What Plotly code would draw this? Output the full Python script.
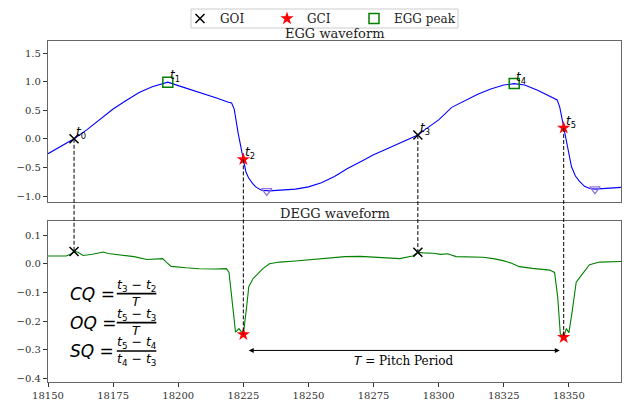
import plotly.graph_objects as go

# ---------------- data ----------------
egg_x = [18150, 18155, 18160, 18165, 18170, 18175, 18180, 18185, 18190, 18196,
         18200, 18205, 18210, 18215, 18219, 18220.5, 18221.5, 18223, 18225, 18226,
         18227, 18228.5, 18230, 18232, 18235, 18240, 18245, 18250, 18255, 18260,
         18265, 18270, 18275, 18280, 18285, 18290, 18292, 18295, 18300, 18305,
         18310, 18315, 18320, 18325, 18329, 18333, 18338, 18343, 18345.5, 18346.5,
         18348, 18349.5, 18351, 18352.5, 18354, 18356, 18358, 18360, 18365, 18370]
egg_y = [-0.26, -0.13, 0.00, 0.16, 0.34, 0.52, 0.67, 0.81, 0.91, 0.99,
         0.93, 0.86, 0.79, 0.71, 0.645, 0.625, 0.52, 0.10, -0.36, -0.58,
         -0.68, -0.78, -0.85, -0.90, -0.91, -0.90, -0.88, -0.84, -0.77, -0.66,
         -0.52, -0.40, -0.28, -0.18, -0.08, 0.02, 0.065, 0.17, 0.33, 0.55,
         0.67, 0.78, 0.87, 0.94, 0.965, 0.94, 0.85, 0.74, 0.68, 0.55,
         0.19, -0.15, -0.49, -0.65, -0.74, -0.83, -0.87, -0.88, -0.87, -0.85]

degg_x = [18150, 18157, 18159, 18160, 18161.5, 18163.5, 18167, 18171.3, 18173, 18178,
          18183, 18188, 18192, 18194, 18195.5, 18197.3, 18203, 18208, 18214, 18218.5,
          18219.5, 18221, 18222, 18223.3, 18224.6, 18225, 18226.1, 18227.1, 18228.7, 18230,
          18232.5, 18235, 18239, 18245, 18250, 18257, 18264, 18270, 18275, 18280,
          18285, 18290, 18292, 18294, 18298, 18300.7, 18303.5, 18306.7, 18312, 18317,
          18321, 18324.7, 18328, 18331, 18336, 18342.6, 18344.5, 18345.7, 18346.7, 18348,
          18349, 18350, 18351.3, 18352.8, 18354.7, 18356, 18357.9, 18361.8, 18370]
degg_y = [0.027, 0.027, 0.035, 0.043, 0.040, 0.029, 0.033, 0.041, 0.036, 0.031,
          0.025, 0.015, 0.016, 0.018, 0.005, -0.009, -0.014, -0.017, -0.018, -0.017,
          -0.030, -0.150, -0.238, -0.226, -0.240, -0.246, -0.163, -0.080, -0.052, -0.041,
          -0.017, 0.000, 0.006, 0.010, 0.014, 0.018, 0.025, 0.026, 0.023, 0.021,
          0.018, 0.027, 0.040, 0.038, 0.037, 0.033, 0.035, 0.025, 0.024, 0.023,
          0.018, 0.011, 0.002, -0.010, -0.016, -0.022, -0.030, -0.116, -0.244, -0.256,
          -0.226, -0.240, -0.163, -0.064, -0.041, -0.025, -0.003, 0.006, 0.008]

# event instants
goi_t = [18160, 18292]
goi_egg = [0.00, 0.065]
goi_degg = [0.043, 0.040]
gci_t = [18225, 18348]
gci_egg = [-0.36, 0.19]
gci_degg = [-0.246, -0.256]
peak_t = [18196, 18329]
peak_egg = [0.99, 0.965]
min_t = [18234, 18360]
min_egg = [-0.91, -0.88]

label_idx = ["0", "1", "2", "3", "4", "5"]
label_t = [goi_t[0], peak_t[0], gci_t[0], goi_t[1], peak_t[1], gci_t[1]]
label_v = [goi_egg[0], peak_egg[0], gci_egg[0], goi_egg[1], peak_egg[1], gci_egg[1]]

x_ticks = [18150, 18175, 18200, 18225, 18250, 18275, 18300, 18325, 18350]
top_ticks = [-1.0, -0.5, 0.0, 0.5, 1.0, 1.5]
bot_ticks = [0.1, 0.0, -0.1, -0.2, -0.3, -0.4]

formula_lhs = ["CQ", "OQ", "SQ"]
formula_num = ["<i>t</i><sub>3</sub> − <i>t</i><sub>2</sub>",
               "<i>t</i><sub>5</sub> − <i>t</i><sub>3</sub>",
               "<i>t</i><sub>5</sub> − <i>t</i><sub>4</sub>"]
formula_den = ["<i>T</i>", "<i>T</i>", "<i>t</i><sub>4</sub> − <i>t</i><sub>3</sub>"]
formula_y = [-0.104, -0.205, -0.304]

# ---------------- layout constants ----------------
W, H = 629, 400
ML, MR, MT, MB = 48, 8, 41, 18
X_RANGE = [18150, 18370]
TOP_RANGE = [-1.11, 1.71]
BOT_RANGE = [-0.412, 0.149]
TOP_DOM = [0.527, 1.0]
BOT_DOM = [0.0, 0.472]

SERIF = "DejaVu Serif"
SANS = "DejaVu Sans"
FRAME = "#666666"

fig = go.Figure()

fig.add_trace(go.Scatter(x=egg_x, y=egg_y, mode="lines", line=dict(color="#0000ff", width=1.1),
                         showlegend=False, xaxis="x", yaxis="y"))
fig.add_trace(go.Scatter(x=degg_x, y=degg_y, mode="lines", line=dict(color="#008000", width=1.1),
                         showlegend=False, xaxis="x2", yaxis="y2"))

# markers on EGG
fig.add_trace(go.Scatter(x=goi_t, y=goi_egg, mode="markers", name="GOI",
                         marker=dict(symbol="x-thin", size=9, line=dict(color="black", width=1.5), color="black"),
                         xaxis="x", yaxis="y"))
fig.add_trace(go.Scatter(x=gci_t, y=gci_egg, mode="markers", name="GCI",
                         marker=dict(symbol="star", size=10, color="red", line=dict(width=0)),
                         xaxis="x", yaxis="y"))
fig.add_trace(go.Scatter(x=peak_t, y=peak_egg, mode="markers", name="EGG peak",
                         marker=dict(symbol="square-open", size=10, color="green", line=dict(width=1.5)),
                         xaxis="x", yaxis="y"))
# invisible legend spacer so the last label is not clipped
fig.add_trace(go.Scatter(x=[None], y=[None], mode="markers", name=" ",
                         marker=dict(color="rgba(0,0,0,0)", size=1),
                         xaxis="x", yaxis="y", hoverinfo="skip"))
fig.add_trace(go.Scatter(x=min_t, y=min_egg, mode="markers", showlegend=False,
                         marker=dict(symbol="triangle-down-open", size=9, color="#9370DB", line=dict(width=1.3)),
                         xaxis="x", yaxis="y"))
# markers on DEGG
fig.add_trace(go.Scatter(x=goi_t, y=goi_degg, mode="markers", showlegend=False,
                         marker=dict(symbol="x-thin", size=9, line=dict(color="black", width=1.5), color="black"),
                         xaxis="x2", yaxis="y2"))
fig.add_trace(go.Scatter(x=gci_t, y=gci_degg, mode="markers", showlegend=False,
                         marker=dict(symbol="star", size=10, color="red", line=dict(width=0)),
                         xaxis="x2", yaxis="y2"))


def top_to_paper(v):
    return TOP_DOM[0] + (v - TOP_RANGE[0]) / (TOP_RANGE[1] - TOP_RANGE[0]) * (TOP_DOM[1] - TOP_DOM[0])


def bot_to_paper(v):
    return BOT_DOM[0] + (v - BOT_RANGE[0]) / (BOT_RANGE[1] - BOT_RANGE[0]) * (BOT_DOM[1] - BOT_DOM[0])


def px_x(p):
    return (p - ML) / (W - ML - MR)


def px_y(p):
    return (H - MB - p) / (H - MT - MB)


shapes = []
# dashed connectors between the two panels
for t, ve, vd in list(zip(goi_t, goi_egg, goi_degg)) + list(zip(gci_t, gci_egg, gci_degg)):
    shapes.append(dict(type="line", xref="x", yref="paper", x0=t, x1=t,
                       y0=top_to_paper(ve), y1=bot_to_paper(vd),
                       line=dict(color="black", width=1, dash="4px,2px")))

# legend frame
shapes.append(dict(type="rect", xref="paper", yref="paper",
                   x0=px_x(191), x1=px_x(458), y0=px_y(28), y1=px_y(9),
                   line=dict(color="#cccccc", width=1), fillcolor="white", layer="above"))

annotations = []
# t labels
for idx, t, v in zip(label_idx, label_t, label_v):
    annotations.append(dict(x=t, y=v, xref="x", yref="y", text="<i>t</i><sub>" + idx + "</sub>",
                            showarrow=False, xanchor="left", yanchor="bottom", xshift=0, yshift=-4,
                            font=dict(family=SANS, size=12, color="black")))

# panel titles
annotations.append(dict(x=0.5, y=1, xref="x domain", yref="y domain", text="EGG waveform",
                        showarrow=False, xanchor="center", yanchor="bottom", yshift=-2,
                        font=dict(family=SERIF, size=13, color="#222")))
annotations.append(dict(x=0.5, y=1, xref="x2 domain", yref="y2 domain", text="DEGG waveform",
                        showarrow=False, xanchor="center", yanchor="bottom", yshift=-2,
                        font=dict(family=SERIF, size=13, color="#222")))

# pitch period arrow
annotations.append(dict(x=gci_t[1] - 1.5, y=-0.302, ax=gci_t[0] + 1.5, ay=-0.302,
                        xref="x2", yref="y2", axref="x2", ayref="y2", text="",
                        showarrow=True, arrowhead=2, arrowside="end+start", arrowsize=1,
                        arrowwidth=1, arrowcolor="black"))
annotations.append(dict(x=(gci_t[0] + gci_t[1]) / 2, y=-0.34, xref="x2", yref="y2",
                        text="<span style='font-family:DejaVu Sans'><i>T</i></span> = Pitch Period",
                        showarrow=False, xanchor="center", yanchor="middle",
                        font=dict(family=SERIF, size=12, color="black")))

# formulas
bar_x0, bar_x1 = 18176.4, 18191.6
for lhs, num, den, fy in zip(formula_lhs, formula_num, formula_den, formula_y):
    annotations.append(dict(x=18157.5, y=fy, xref="x2", yref="y2", text="<i>" + lhs + "</i> =",
                            showarrow=False, xanchor="left", yanchor="middle",
                            font=dict(family=SANS, size=17, color="black")))
    annotations.append(dict(x=(bar_x0 + bar_x1) / 2, y=fy, xref="x2", yref="y2", text=num,
                            showarrow=False, xanchor="center", yanchor="bottom", yshift=-2,
                            font=dict(family=SANS, size=12.5, color="black")))
    annotations.append(dict(x=(bar_x0 + bar_x1) / 2, y=fy, xref="x2", yref="y2", text=den,
                            showarrow=False, xanchor="center", yanchor="top", yshift=2,
                            font=dict(family=SANS, size=12.5, color="black")))
    shapes.append(dict(type="line", xref="x2", yref="y2", x0=bar_x0, x1=bar_x1, y0=fy, y1=fy,
                       line=dict(color="black", width=1.6)))

axis_common = dict(showgrid=False, zeroline=False, showline=True, linecolor=FRAME, linewidth=1.3,
                   mirror=True, ticks="outside", ticklen=4, tickwidth=1, tickcolor="#333",
                   tickfont=dict(family=SERIF, size=10, color="#333"), automargin=False)

xaxis_top = dict(axis_common)
xaxis_top.update(ticks="", showticklabels=False)

fig.update_layout(
    width=W, height=H,
    margin=dict(l=ML, r=MR, t=MT, b=MB, autoexpand=False),
    paper_bgcolor="white", plot_bgcolor="white",
    xaxis=dict(domain=[0, 1], range=X_RANGE, anchor="y", **xaxis_top),
    yaxis=dict(domain=TOP_DOM, range=TOP_RANGE, anchor="x", tickvals=top_ticks, tickformat=".1f",
               **axis_common),
    xaxis2=dict(domain=[0, 1], range=X_RANGE, anchor="y2", tickvals=x_ticks, tickformat="d",
                **axis_common),
    yaxis2=dict(domain=BOT_DOM, range=BOT_RANGE, anchor="x2", tickvals=bot_ticks, tickformat=".1f",
                **axis_common),
    legend=dict(orientation="h", x=px_x(180), y=px_y(18.5), xanchor="left", yanchor="middle",
                entrywidth=42, entrywidthmode="pixels",
                borderwidth=0, bgcolor="rgba(0,0,0,0)",
                font=dict(family=SERIF, size=12, color="#222")),
    shapes=shapes, annotations=annotations,
)

fig.write_html("out.html", config={"displayModeBar": False},
               post_script="document.body.style.margin='0';")
